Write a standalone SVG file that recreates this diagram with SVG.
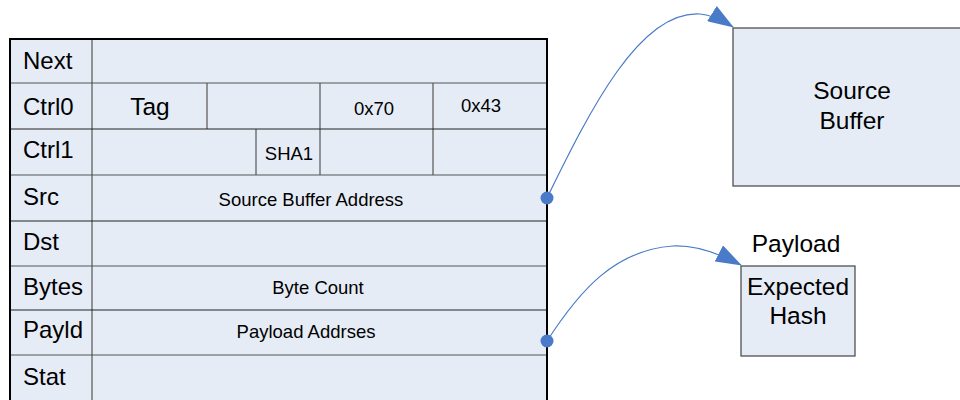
<svg xmlns="http://www.w3.org/2000/svg" width="960" height="400" viewBox="0 0 960 400">
<defs>
<style>
text{font-family:"Liberation Sans",Arial,sans-serif;fill:#000}
.lbl{font-size:24px}
.big{font-size:24.5px;text-anchor:middle}
.sm{font-size:18.5px;text-anchor:middle}
.cell{fill:#E6ECF6;stroke:#444;stroke-width:1.2}
.in{stroke:#555;stroke-width:1.2;fill:none}
.dk{stroke:#222;stroke-width:1.2;fill:none}
.conn{fill:none;stroke:#4A7BC8;stroke-width:1.2}
.dot{fill:#4A7BC8}
</style>
<marker id="arr" markerWidth="26" markerHeight="18" refX="25" refY="9" orient="auto" markerUnits="userSpaceOnUse">
<path d="M0,0 L26,9 L0,18 Z" fill="#4A7BC8"/>
</marker>
</defs>
<g id="descriptor">
<rect x="10" y="39" width="537" height="370" fill="#E6ECF6" stroke="none"/>
<g class="in">
<line x1="92" y1="39" x2="92" y2="400"/>
<line x1="10" y1="83" x2="547" y2="83"/>
<line x1="10" y1="175" x2="547" y2="175"/>
<line x1="10" y1="266" x2="547" y2="266"/>
<line x1="10" y1="355" x2="547" y2="355"/>
<line x1="207" y1="83" x2="207" y2="129"/>
<line x1="320" y1="83" x2="320" y2="175"/>
<line x1="433" y1="83" x2="433" y2="175"/>
<line x1="256" y1="129" x2="256" y2="175"/>
</g>
<g class="dk">
<line x1="10" y1="129" x2="547" y2="129"/>
<line x1="10" y1="221" x2="547" y2="221"/>
<line x1="10" y1="310" x2="547" y2="310"/>
</g>
<path d="M10,402 L10,39 L547,39 L547,402" fill="none" stroke="#000" stroke-width="2"/>
<text class="lbl" x="23" y="69">Next</text>
<text class="lbl" x="23" y="115">Ctrl0</text>
<text class="lbl" x="23" y="158">Ctrl1</text>
<text class="lbl" x="23" y="205">Src</text>
<text class="lbl" x="23" y="250">Dst</text>
<text class="lbl" x="23" y="295">Bytes</text>
<text class="lbl" x="23" y="338">Payld</text>
<text class="lbl" x="23" y="385">Stat</text>
<text class="big" x="150" y="115">Tag</text>
<text class="sm" x="374" y="115">0x70</text>
<text class="sm" x="481" y="112">0x43</text>
<text class="sm" x="289" y="160">SHA1</text>
<text class="sm" x="311" y="206">Source Buffer Address</text>
<text class="sm" x="318" y="294">Byte Count</text>
<text class="sm" x="306" y="338">Payload Addrses</text>
</g>
<g id="source-buffer">
<rect x="733" y="28" width="240" height="158" class="cell"/>
<text class="big" x="852" y="99">Source</text>
<text class="big" x="852" y="129">Buffer</text>
</g>
<g id="payload">
<text class="big" x="796" y="252">Payload</text>
<rect x="741" y="266" width="114" height="90" class="cell"/>
<text class="big" x="798" y="295">Expected</text>
<text class="big" x="798" y="324">Hash</text>
</g>
<g id="connectors">
<path class="conn" d="M547,198 C590,110 640,10 700,14 C712,15 722,20 733,27" marker-end="url(#arr)"/>
<circle class="dot" cx="547" cy="198" r="6.5"/>
<path class="conn" d="M547,341 C580,290 615,250 673,246 C695,245 720,254 741,265" marker-end="url(#arr)"/>
<circle class="dot" cx="547" cy="341" r="6.5"/>
</g>
</svg>
